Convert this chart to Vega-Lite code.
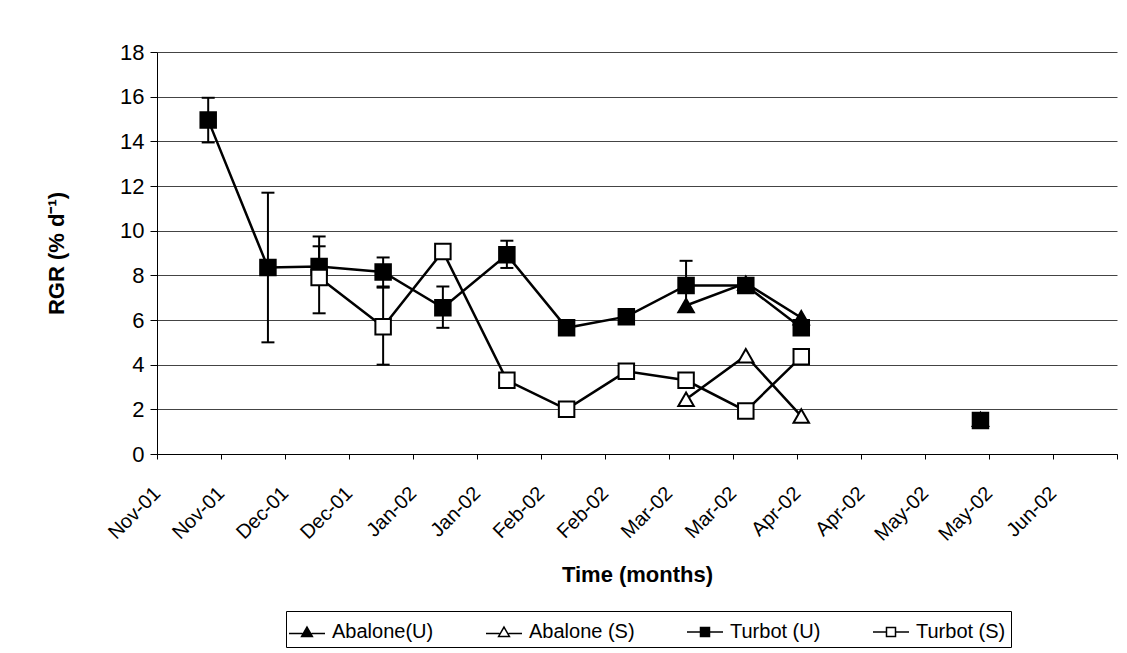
{
  "$schema": "https://vega.github.io/schema/vega-lite/v6.json",
  "width": 960,
  "height": 402,
  "autosize": {"type": "none"},
  "padding": {"left": 157, "top": 52, "right": 10, "bottom": 199},
  "background": "white",
  "data": {
    "values": [
      {"series": "Abalone(U)", "date": "2002-03-09", "value": 6.65},
      {"series": "Abalone(U)", "date": "2002-03-23", "value": 7.65},
      {"series": "Abalone(U)", "date": "2002-04-05", "value": 6.1},
      {"series": "Abalone(U)", "date": "2002-05-17", "value": 1.55},
      {"series": "Abalone (S)", "date": "2002-03-09", "value": 2.45},
      {"series": "Abalone (S)", "date": "2002-03-23", "value": 4.4},
      {"series": "Abalone (S)", "date": "2002-04-05", "value": 1.7},
      {"series": "Turbot (U)", "date": "2001-11-17", "value": 14.95, "lo": 13.95, "hi": 15.95},
      {"series": "Turbot (U)", "date": "2001-12-01", "value": 8.35, "lo": 5.0, "hi": 11.7},
      {"series": "Turbot (U)", "date": "2001-12-13", "value": 8.4, "lo": 8.4, "hi": 9.74},
      {"series": "Turbot (U)", "date": "2001-12-28", "value": 8.15, "lo": 7.45, "hi": 8.8},
      {"series": "Turbot (U)", "date": "2002-01-11", "value": 6.55, "lo": 5.65, "hi": 7.5},
      {"series": "Turbot (U)", "date": "2002-01-26", "value": 8.92, "lo": 8.33, "hi": 9.55},
      {"series": "Turbot (U)", "date": "2002-02-09", "value": 5.65},
      {"series": "Turbot (U)", "date": "2002-02-23", "value": 6.15},
      {"series": "Turbot (U)", "date": "2002-03-09", "value": 7.55, "lo": 6.45, "hi": 8.65},
      {"series": "Turbot (U)", "date": "2002-03-23", "value": 7.55},
      {"series": "Turbot (U)", "date": "2002-04-05", "value": 5.65},
      {"series": "Turbot (U)", "date": "2002-05-17", "value": 1.5},
      {"series": "Turbot (S)", "date": "2001-12-13", "value": 7.9, "lo": 6.3, "hi": 9.3},
      {"series": "Turbot (S)", "date": "2001-12-28", "value": 5.7, "lo": 4.0, "hi": 7.5},
      {"series": "Turbot (S)", "date": "2002-01-11", "value": 9.07},
      {"series": "Turbot (S)", "date": "2002-01-26", "value": 3.3},
      {"series": "Turbot (S)", "date": "2002-02-09", "value": 2.0},
      {"series": "Turbot (S)", "date": "2002-02-23", "value": 3.7},
      {"series": "Turbot (S)", "date": "2002-03-09", "value": 3.3},
      {"series": "Turbot (S)", "date": "2002-03-23", "value": 1.93},
      {"series": "Turbot (S)", "date": "2002-04-05", "value": 4.35}
    ]
  },
  "encoding": {
    "x": {
      "field": "date",
      "type": "temporal",
      "scale": {
        "type": "utc",
        "domain": [
          {"year": 2001, "month": 11, "date": 5, "utc": true},
          {"year": 2002, "month": 6, "date": 18, "utc": true}
        ]
      },
      "axis": {
        "values": [
          {"year": 2001, "month": 11, "date": 5, "utc": true},
          {"year": 2001, "month": 11, "date": 20, "utc": true},
          {"year": 2001, "month": 12, "date": 5, "utc": true},
          {"year": 2001, "month": 12, "date": 20, "utc": true},
          {"year": 2002, "month": 1, "date": 4, "utc": true},
          {"year": 2002, "month": 1, "date": 19, "utc": true},
          {"year": 2002, "month": 2, "date": 3, "utc": true},
          {"year": 2002, "month": 2, "date": 18, "utc": true},
          {"year": 2002, "month": 3, "date": 5, "utc": true},
          {"year": 2002, "month": 3, "date": 20, "utc": true},
          {"year": 2002, "month": 4, "date": 4, "utc": true},
          {"year": 2002, "month": 4, "date": 19, "utc": true},
          {"year": 2002, "month": 5, "date": 4, "utc": true},
          {"year": 2002, "month": 5, "date": 19, "utc": true},
          {"year": 2002, "month": 6, "date": 3, "utc": true},
          {"year": 2002, "month": 6, "date": 18, "utc": true}
        ],
        "format": "%b-%y",
        "labelExpr": "datum.index >= 1 ? '' : datum.label",
        "labelAngle": -45,
        "labelAlign": "right",
        "labelBaseline": "middle",
        "labelPadding": 31,
        "labelOverlap": false,
        "labelBound": false,
        "labelFlush": false,
        "labelFontSize": 20,
        "tickSize": 5,
        "grid": false,
        "title": "Time (months)",
        "titleX": 480,
        "titleY": 127,
        "titleAlign": "center",
        "titleBaseline": "alphabetic"
      }
    },
    "y": {
      "field": "value",
      "type": "quantitative",
      "scale": {"domain": [0, 18], "nice": false},
      "axis": {
        "values": [0, 2, 4, 6, 8, 10, 12, 14, 16, 18],
        "grid": true,
        "tickSize": 7,
        "labelPadding": 6,
        "labelFontSize": 22,
        "title": "RGR (% d⁻¹)",
        "titleX": -101,
        "titleY": 201,
        "titleAngle": -90,
        "titleAlign": "center",
        "titleBaseline": "middle"
      }
    }
  },
  "layer": [
    {
      "transform": [{"filter": "isValid(datum.lo)"}],
      "mark": {"type": "rule", "color": "black", "strokeWidth": 2},
      "encoding": {
        "y": {"field": "lo", "type": "quantitative"},
        "y2": {"field": "hi"}
      }
    },
    {
      "transform": [{"filter": "isValid(datum.lo)"}],
      "mark": {"type": "tick", "orient": "horizontal", "color": "black", "size": 13, "thickness": 2, "opacity": 1},
      "encoding": {"y": {"field": "lo", "type": "quantitative"}}
    },
    {
      "transform": [{"filter": "isValid(datum.hi)"}],
      "mark": {"type": "tick", "orient": "horizontal", "color": "black", "size": 13, "thickness": 2, "opacity": 1},
      "encoding": {"y": {"field": "hi", "type": "quantitative"}}
    },
    {
      "transform": [{"filter": "toDate(datum.date) < utc(2002, 4, 1)"}],
      "mark": {"type": "line", "color": "black", "strokeWidth": 2.5},
      "encoding": {"detail": {"field": "series"}}
    },
    {
      "mark": {"type": "point", "filled": true, "stroke": "black", "strokeWidth": 2, "size": 240, "opacity": 1},
      "encoding": {
        "shape": {
          "field": "series",
          "scale": {
            "domain": ["Abalone(U)", "Abalone (S)", "Turbot (U)", "Turbot (S)"],
            "range": ["triangle-up", "triangle-up", "square", "square"]
          },
          "legend": null
        },
        "fill": {
          "field": "series",
          "scale": {
            "domain": ["Abalone(U)", "Abalone (S)", "Turbot (U)", "Turbot (S)"],
            "range": ["black", "white", "black", "white"]
          },
          "legend": null
        }
      }
    },
    {
      "transform": [{"filter": "false"}],
      "mark": {"type": "point", "filled": true, "stroke": "black", "strokeWidth": 2, "opacity": 1},
      "encoding": {
        "shape": {
          "field": "series",
          "scale": {
            "domain": ["Abalone(U)", "Abalone (S)", "Turbot (U)", "Turbot (S)"],
            "range": [
              "M-1.2,0.1H-0.3M0.3,0.1H1.2M0,-0.33L0.36,0.3H-0.36Z",
              "M-1.2,0.1H-0.3M0.3,0.1H1.2M0,-0.33L0.36,0.3H-0.36Z",
              "M-1.2,0H-0.3M0.3,0H1.2M-0.3,-0.3H0.3V0.3H-0.3Z",
              "M-1.2,0H-0.3M0.3,0H1.2M-0.3,-0.3H0.3V0.3H-0.3Z"
            ]
          },
          "legend": {
            "title": null,
            "orient": "none",
            "legendX": 129,
            "legendY": 559,
            "direction": "horizontal",
            "columns": 4,
            "gridAlign": "none",
            "strokeColor": "black",
            "fillColor": "white",
            "padding": 5,
            "symbolSize": 900,
            "labelFontSize": 20,
            "labelOffset": 9,
            "columnPadding": 49,
            "encode": {
              "symbols": {
                "update": {
                  "stroke": {"value": "black"},
                  "strokeWidth": {"value": 2},
                  "opacity": {"value": 1}
                }
              }
            }
          }
        },
        "fill": {
          "field": "series",
          "scale": {
            "domain": ["Abalone(U)", "Abalone (S)", "Turbot (U)", "Turbot (S)"],
            "range": ["black", "white", "black", "white"]
          },
          "legend": {
            "title": null,
            "orient": "none",
            "legendX": 129,
            "legendY": 559,
            "direction": "horizontal",
            "columns": 4,
            "gridAlign": "none",
            "strokeColor": "black",
            "fillColor": "white",
            "padding": 5,
            "symbolSize": 900,
            "labelFontSize": 20,
            "labelOffset": 9,
            "columnPadding": 49,
            "encode": {
              "symbols": {
                "update": {
                  "stroke": {"value": "black"},
                  "strokeWidth": {"value": 2},
                  "opacity": {"value": 1}
                }
              }
            }
          }
        }
      }
    }
  ],
  "resolve": {"scale": {"shape": "independent", "fill": "independent"}},
  "config": {
    "view": {"stroke": null},
    "font": "Liberation Sans",
    "axis": {
      "domainColor": "black",
      "domainWidth": 1,
      "tickColor": "black",
      "gridColor": "#444444",
      "gridWidth": 1,
      "labelColor": "black",
      "labelFont": "Liberation Sans",
      "titleColor": "black",
      "titleFont": "Liberation Sans",
      "titleFontSize": 22,
      "titleFontWeight": "bold"
    },
    "legend": {
      "labelColor": "black",
      "labelFont": "Liberation Sans"
    }
  }
}
